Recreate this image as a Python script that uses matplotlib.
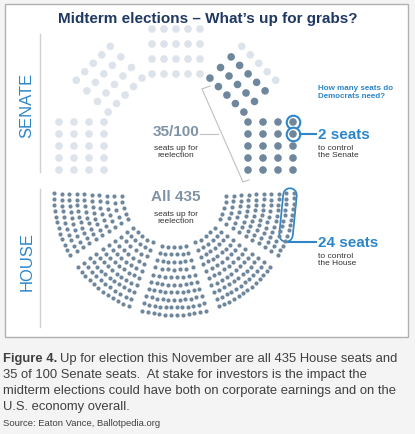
import numpy as np
import matplotlib.pyplot as plt

# ---- data ----
senate_blocks_deg = [180, 135, 90, 45, 0]     # wedge directions
senate_block_depth = 4                         # radial rows per wedge
senate_block_width = 5                         # seats across per wedge
senate_up = [0, 0, 0, 15, 20]                  # seats up for reelection per wedge (35)
house_ring_seats = [25, 29, 33, 37, 41, 46, 50, 54, 58, 62]   # 435 seats
house_wedges = 5

NAVY = '#1f3864'
BLUE = '#2e86c8'
DARK = '#6f879c'
LIGHT = '#dde3ea'
TXT = '#333333'

fig = plt.figure(figsize=(4.15, 4.35), dpi=100)
fig.patch.set_facecolor('#f4f4f4')
ax = fig.add_axes([0, 0, 1, 1])
ax.set_xlim(0, 415)
ax.set_ylim(435, 0)
ax.axis('off')
plt.rcParams['font.family'] = ['Liberation Sans', 'DejaVu Sans']

ax.add_patch(plt.Rectangle((5, 5), 403, 333, facecolor='white', edgecolor='#b0b0b0', lw=1))
ax.text(208, 19, 'Midterm elections \u2013 What\u2019s up for grabs?', ha='center', va='center',
        fontsize=11, fontweight='bold', color=NAVY)

# side labels and rules
ax.text(27, 105, 'SENATE', rotation=90, ha='center', va='center', fontsize=12, color=BLUE)
ax.text(27, 262, 'HOUSE', rotation=90, ha='center', va='center', fontsize=12, color=BLUE)
ax.plot([40, 40], [35, 173], color='#d0d0d0', lw=1)
ax.plot([40, 40], [190, 328], color='#d0d0d0', lw=1)

# ---- senate ----
scx, scy = 176, 147
sx, sy, sc = [], [], []
for phi, up in zip(senate_blocks_deg, senate_up):
    a = np.radians(phi)
    u = np.array([np.cos(a), -np.sin(a)])
    v = np.array([np.sin(a), np.cos(a)])
    k = 0
    for i in range(senate_block_depth):
        for j in range(senate_block_width):
            r = 72 + i * 15
            t = (j - 2) * 12
            p = np.array([scx, scy]) + r * u + t * v
            sx.append(p[0]); sy.append(p[1])
            sc.append(DARK if k < up else LIGHT)
            k += 1
# the 2 seats to control the Senate: outer column, top two of right wedge
hx = [sx[-5], sx[-4]]
hy = [sy[-5], sy[-4]]
ax.scatter(hx, hy, s=95, facecolor='white', edgecolor=BLUE, lw=1.5, zorder=2)
ax.scatter(sx, sy, s=30, c=sc, lw=0, zorder=3)

ax.text(176, 132, '35/100', ha='center', va='center', fontsize=11, fontweight='bold', color='#7f93a5')
ax.text(176, 152, 'seats up for\nreelection', ha='center', va='center', fontsize=6, color=TXT, linespacing=1.1)
ax.plot([200, 218], [135, 135], color='#c0c0c0', lw=0.8)
ax.plot([210, 202, 243, 249], [87, 90, 183, 181], color='#c0c0c0', lw=0.8)

ax.plot([300, 316], [135, 135], color=BLUE, lw=1.5)
ax.text(318, 135, '2 seats', ha='left', va='center', fontsize=11, fontweight='bold', color=BLUE)
ax.text(318, 152, 'to control\nthe Senate', ha='left', va='center', fontsize=6, color=TXT, linespacing=1.1)
ax.text(318, 93, 'How many seats do\nDemocrats need?', ha='left', va='center', fontsize=5.8,
        fontweight='bold', color=BLUE, linespacing=1.2)

# ---- house ----
hcx, hcy = 174, 196
lo, hi = -0.04, np.pi + 0.04
gap = 0.07
span = (hi - lo - gap * (house_wedges - 1)) / house_wedges
rings = np.linspace(52, 120, len(house_ring_seats))
hxs, hys = [], []
for r, n in zip(rings, house_ring_seats):
    per = [n // house_wedges + (1 if w < n % house_wedges else 0) for w in range(house_wedges)]
    for w, m in enumerate(per):
        a0 = lo + w * (span + gap)
        ang = a0 + (np.arange(m) + 0.5) * span / m
        hxs.extend(hcx + r * np.cos(ang))
        hys.extend(hcy + r * np.sin(ang))
ax.scatter(hxs, hys, s=9, c=DARK, lw=0, zorder=3)

# highlight of the 24 seats
ax.plot([290, 286], [196, 236], color=BLUE, lw=11, solid_capstyle='round', zorder=1)
ax.plot([290, 286], [196, 236], color='white', lw=8.5, solid_capstyle='round', zorder=2)
ax.plot([288, 316], [243, 243], color=BLUE, lw=1.5)
ax.text(318, 243, '24 seats', ha='left', va='center', fontsize=11, fontweight='bold', color=BLUE)
ax.text(318, 260, 'to control\nthe House', ha='left', va='center', fontsize=6, color=TXT, linespacing=1.1)

ax.text(176, 197, 'All 435', ha='center', va='center', fontsize=11, fontweight='bold', color='#7f93a5')
ax.text(176, 218, 'seats up for\nreelection', ha='center', va='center', fontsize=6, color=TXT, linespacing=1.1)

# ---- caption ----
cap = ['Up for election this November are all 435 House seats and',
       '35 of 100 Senate seats.  At stake for investors is the impact the',
       'midterm elections could have both on corporate earnings and on the',
       'U.S. economy overall.']
ax.text(3, 359, 'Figure 4.', ha='left', va='center', fontsize=9.4, fontweight='bold', color='#404040')
ax.text(60, 359, cap[0], ha='left', va='center', fontsize=9.4, color='#404040')
for k, line in enumerate(cap[1:]):
    ax.text(3, 375 + 16 * k, line, ha='left', va='center', fontsize=9.4, color='#404040')
ax.text(3, 424, 'Source: Eaton Vance, Ballotpedia.org', ha='left', va='center', fontsize=6.8, color='#404040')

fig.savefig('out.png', dpi=100, facecolor=fig.get_facecolor())
